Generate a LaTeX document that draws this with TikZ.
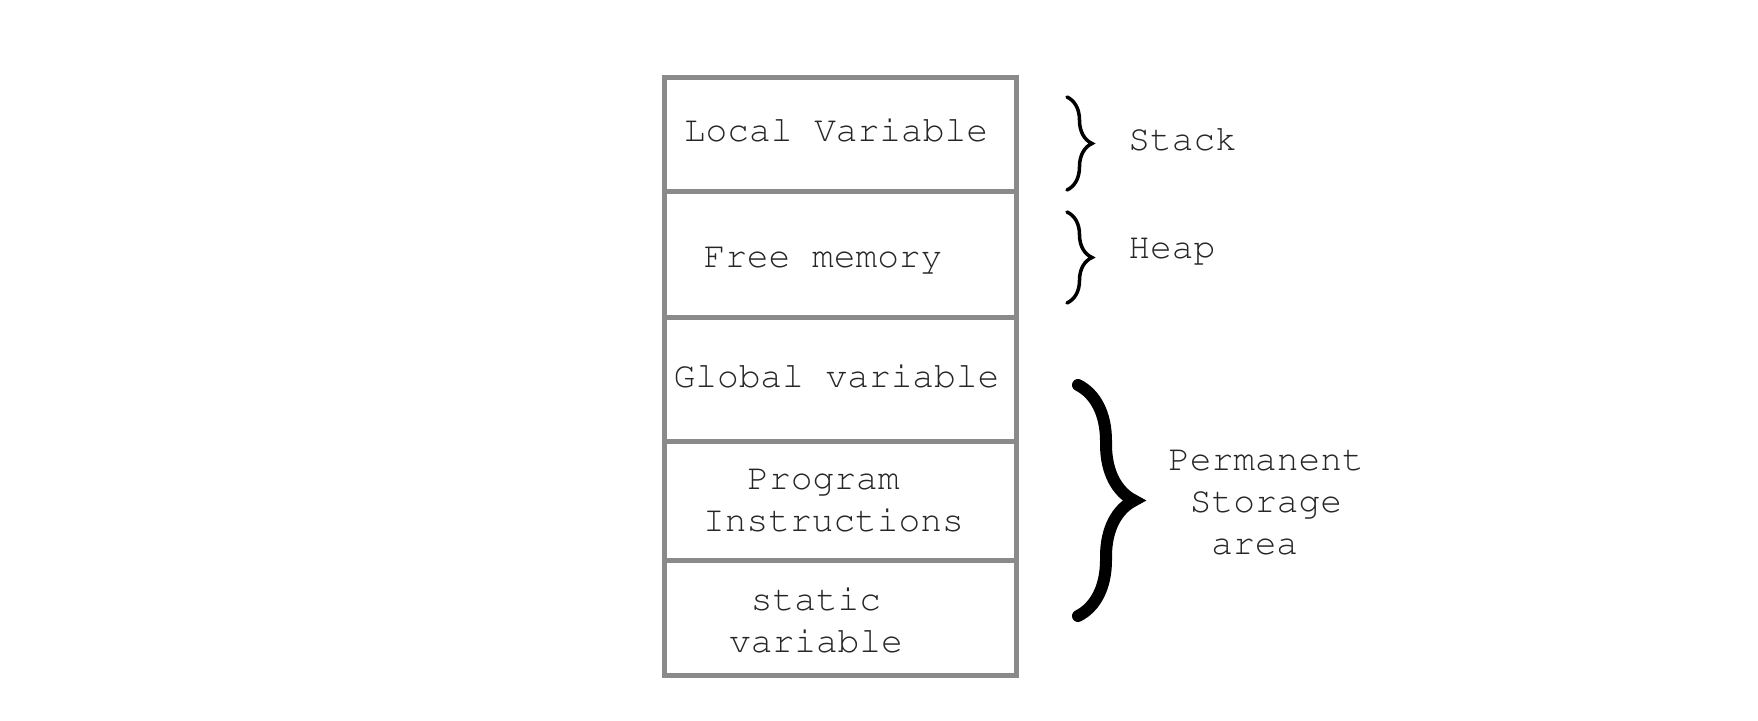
\documentclass[tikz,border=0pt]{standalone}
\usepackage[T1]{fontenc}
\usepackage{courier}
\usepackage[svgnames]{xcolor}
\usetikzlibrary{positioning,decorations.pathreplacing}
\definecolor{boxgray}{HTML}{8A8A8A}
\definecolor{inkgray}{HTML}{262626}
\newcommand\memfont{\ttfamily\fontsize{20.6}{23.8}\selectfont}

\begin{document}
\begin{tikzpicture}[
  cell/.style={draw=boxgray, line width=0.1cm, outer sep=0pt, inner sep=0pt, minimum width=7.04cm},
  tag/.style={text=inkgray, font=\memfont, align=center, inner sep=0pt},
  thinbrace/.style={decorate, decoration={brace, amplitude=0.5cm}, line width=0.07cm, line cap=round},
  fatbrace/.style={decorate, decoration={brace, amplitude=1.12cm}, line width=0.24cm, line cap=round}]
\useasboundingbox (0,0) rectangle (35.16,14.4);
   %whole picture, 1758x720 with 1px = 0.02cm

%%memory cells, stacked top to bottom
\node [cell, minimum height=2.28cm, anchor=north] (local) at (16.80,12.84) {};
\node [cell, minimum height=2.52cm, below=0pt of local] (free) {};
\node [cell, minimum height=2.48cm, below=0pt of free] (global) {};
\node [cell, minimum height=2.36cm, below=0pt of global] (prog) {};
\node [cell, minimum height=2.30cm, below=0pt of prog] (static) {};
   %the cells share their borders (outer sep=0)

%%texts in the cells
\node [tag] (localtxt) at ([shift={(-0.08,0.09)}]local.center) {Local Variable};
\node [tag] (freetxt) at ([shift={(-0.34,-0.10)}]free.center) {Free memory};
\node [tag] (globaltxt) at ([shift={(-0.07,0.07)}]global.center) {Global variable};
\node [tag] (progtxt) at ([shift={(-0.13,0)}]prog.center) {Program\hspace*{0.4cm}\\Instructions};
\node [tag] (statictxt) at ([shift={(-0.48,-0.05)}]static.center) {static\\variable};

%%names of the areas
\node [tag, anchor=west] (stack) at (22.56,11.62) {Stack};
\node [tag, anchor=west] (heap) at (22.56,9.37) {Heap};
\node [tag] (perm) at (25.32,4.34) {Permanent\\Storage\\area\hspace*{0.45cm}};

%%braces
\draw [thinbrace] ([shift={(1.02,-0.38)}]local.north east) -- ([shift={(1.02,0.04)}]local.south east);
   %brace for the stack
\draw [thinbrace] ([shift={(1.02,-0.40)}]free.north east) -- ([shift={(1.02,0.30)}]free.south east);
   %brace for the heap
\draw [fatbrace] ([shift={(1.24,-1.34)}]global.north east) -- ([shift={(1.24,1.18)}]static.south east);
   %"thick brace" over the last three cells
\end{tikzpicture}
\end{document}
